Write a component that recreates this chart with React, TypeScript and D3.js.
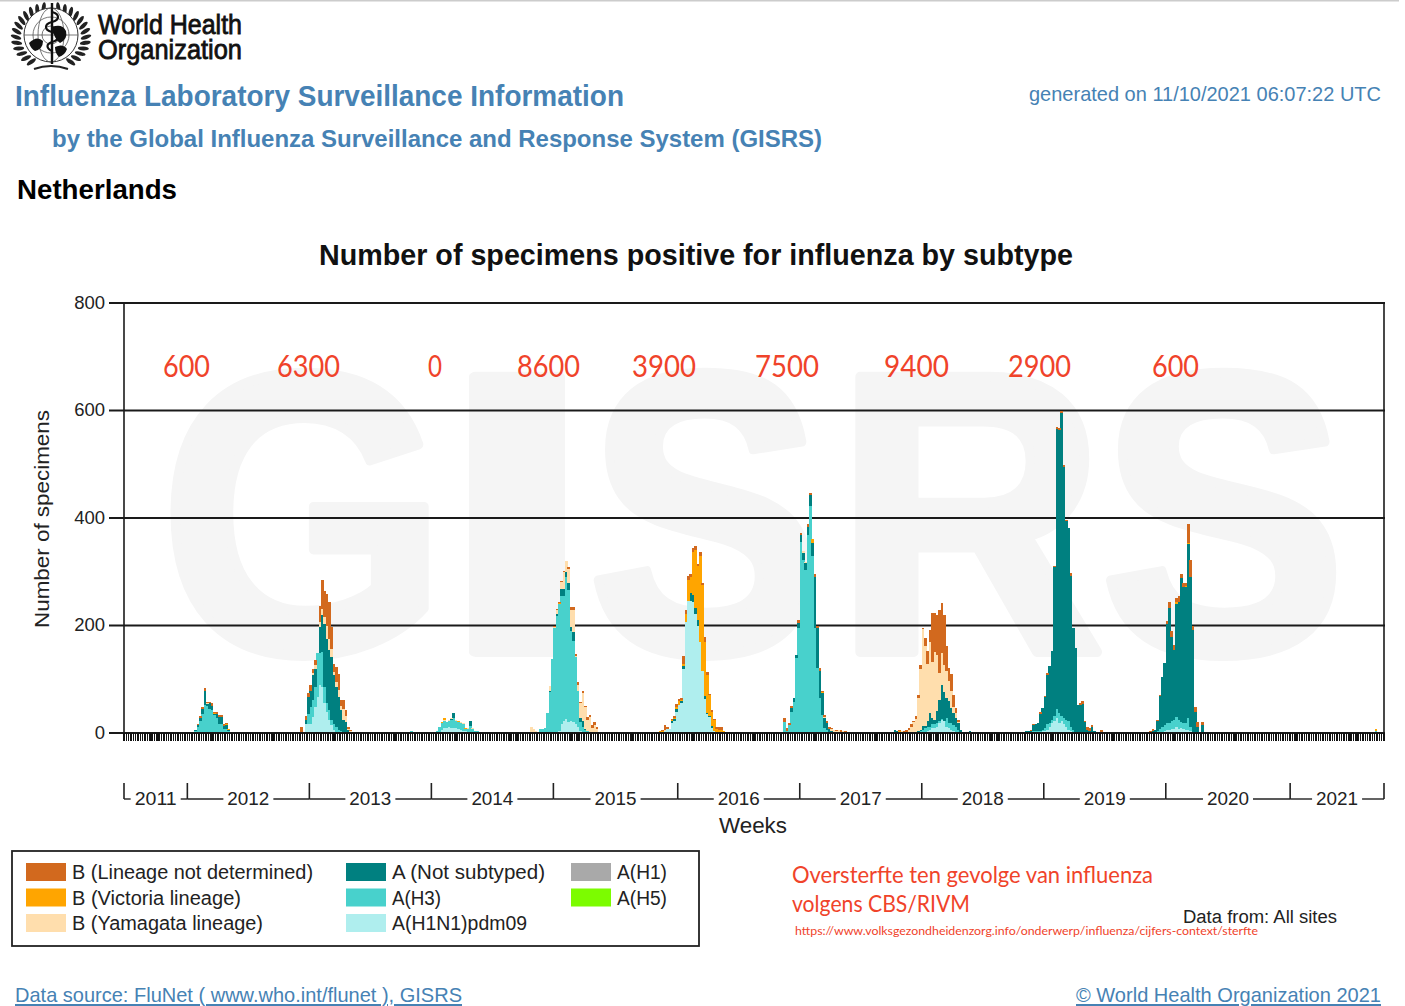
import React from "react";
import * as d3 from "d3";

const TOTAL_WEEKS = 537;
const yTicks = [0, 200, 400, 600, 800];
const years = ["2011", "2012", "2013", "2014", "2015", "2016", "2017", "2018", "2019", "2020", "2021"];
const yearBoundaries = [0, 27, 79, 131, 183, 236, 288, 340, 392, 444, 497, 537];

const seriesKeys = ["h1n1", "h3", "h1", "h5", "ans", "yam", "vic", "bnd"];
const seriesColors: Record<string, string> = {
  bnd: "#d2691e", vic: "#ffa500", yam: "#ffdead", ans: "#008080",
  h3: "#48d1cc", h1n1: "#afeeee", h1: "#a9a9a9", h5: "#7cfc00",
};
const legendCol1 = ["bnd", "vic", "yam"];
const legendCol1Labels = ["B (Lineage not determined)", "B (Victoria lineage)", "B (Yamagata lineage)"];
const legendCol2 = ["ans", "h3", "h1n1"];
const legendCol2Labels = ["A (Not subtyped)", "A(H3)", "A(H1N1)pdm09"];
const legendCol3 = ["h1", "h5"];
const legendCol3Labels = ["A(H1)", "A(H5)"];

const mortalityLabels = ["600", "6300", "0", "8600", "3900", "7500", "9400", "2900", "600"];
const mortalityLeft = [163, 277, 428, 517, 632, 755, 884, 1008, 1152];
const mortalityRight = [210, 340, 442, 580, 696, 819, 949, 1071, 1199];

const watermarkLetters = ["G", "I", "S", "R", "S"];
const watermarkLeft = [160, 438, 588, 835, 1100];
const watermarkRight = [447, 596, 822, 1105, 1346];

// Season 2011/12
const start2012 = 30;
const h3_2012 = [4, 12, 23, 36, 52, 50, 45, 42, 33, 28, 17, 17, 8, 8, 3];
const ans_2012 = [2, 3, 5, 9, 27, 4, 10, 8, 3, 8, 12, 12, 5, 6, 2];
const yam_2012 = [0, 0, 0, 0, 0, 1, 0, 1];
const vic_2012 = [0, 0, 0, 0, 0, 0, 0, 0, 1, 0, 0, 0, 0, 3, 3];
const bnd_2012 = [0, 2, 3, 3, 5, 3, 3, 4, 2, 3, 4, 4, 4, 2, 0];

// Season 2012/13
const start2013 = 75;
const h1_2013 = [0, 2, 16, 17, 17, 30, 48, 67, 89, 86, 55, 39, 24, 14, 5, 2];
const h3_2013 = [0, 0, 1, 19, 31, 31, 38, 81, 59, 65, 31, 16, 18, 10, 12, 9, 5, 4, 2, 1];
const ans_2013 = [0, 0, 8, 31, 31, 46, 34, 0, 49, 68, 117, 120, 112, 117, 90, 75, 62, 38, 22, 19, 5, 2];
const yam_2013 = [0, 0, 0, 0, 0, 5, 6, 0, 10, 12, 12, 25, 20, 15, 6, 8, 13, 8, 20, 12, 3, 1];
const bnd_2013 = [11, 0, 6, 7, 10, 8, 10, 0, 30, 54, 50, 59, 70, 41, 16, 29, 30, 11, 17, 10, 3, 2];

// Season 2013/14
const start2014 = 133;
const h1_2014 = [1, 2, 6, 9, 9, 11, 9, 10, 9, 8, 5, 4, 3, 2];
const h3_2014 = [3, 10, 12, 14, 12, 12, 15, 17, 13, 13, 13, 12, 5, 6, 13, 8, 4, 3];
const ans_2014 = [0, 0, 0, 0, 0, 0, 2, 10, 1, 0, 0, 0, 0, 0, 9];
const yam_2014 = [0, 0, 0, 2, 0, 2, 2, 0, 2, 0, 2, 3, 0, 1, 0, 1];
const vic_2014 = [0, 0, 2, 3, 0, 0, 0, 0, 0, 2, 0, 0, 1, 0, 1];

// Season 2014/15
const start2015 = 173;
const h1_2015 = [0, 0, 0, 0, 0, 0, 0, 0, 0, 0, 0, 1, 4, 17, 23, 26, 20, 23, 20, 17, 11, 4, 2, 1];
const h3_2015 = [0, 0, 0, 0, 7, 7, 10, 37, 76, 137, 196, 217, 236, 238, 232, 264, 246, 167, 152, 124, 68, 16, 10, 5, 3, 1];
const ans_2015 = [0, 0, 0, 0, 0, 0, 0, 0, 3, 0, 0, 3, 0, 13, 13, 10, 14, 7, 15, 0, 0, 8, 10, 2];
const yam_2015 = [11, 7, 4, 0, 0, 0, 0, 1, 9, 1, 2, 8, 0, 13, 32, 20, 25, 32, 41, 3, 11, 28, 53, 40, 22, 28, 10, 15, 8, 1];
const vic_2015 = [0, 0, 0, 0, 0, 0, 0, 0, 0, 0, 0, 0, 1];
const bnd_2015 = [0, 0, 0, 0, 0, 0, 0, 0, 0, 0, 2, 2, 2, 2, 2, 0, 3, 5, 6, 3, 4, 1, 4, 3, 4, 5, 4, 5, 3, 0];

// Season 2015/16
const start2016 = 228;
const h1_2016 = [0, 0, 3, 8, 7, 18, 22, 40, 52, 56, 119, 206, 246, 246, 243, 221, 200, 169, 116, 63, 35, 29, 10, 4];
const ans_2016 = [0, 0, 0, 0, 0, 4, 4, 4, 0, 4, 5, 0, 0, 14, 13, 12, 10, 0, 0, 6, 2, 2, 3];
const yam_2016 = [0, 0, 3];
const vic_2016 = [3, 4, 0, 0, 0, 2, 2, 5, 7, 2, 4, 15, 38, 30, 80, 107, 100, 160, 160, 100, 70, 40, 26, 20, 8, 6, 6, 3, 0];
const bnd_2016 = [1, 2, 8, 3, 0, 2, 4, 5, 4, 4, 15, 7, 9, 6, 9, 8, 4, 7, 4, 9, 6, 2, 3, 2, 3, 5, 5, 1, 2];

// Season 2016/17
const start2017 = 281;
const h3_2017 = [20, 4, 15, 40, 58, 140, 195, 356, 322, 304, 369, 422, 329, 195, 121, 65, 34, 9, 6, 2];
const ans_2017 = [0, 0, 0, 6, 7, 5, 10, 12, 12, 12, 14, 20, 24, 96, 75, 50, 40, 18, 12, 6, 4];
const yam_2017 = [0, 0, 0, 0, 0, 0, 0, 0, 4, 3, 0, 0, 0, 0, 0, 0, 0, 2, 1, 0, 3, 6, 3, 6, 0, 3, 0];
const vic_2017 = [0, 0, 0, 0, 0, 0, 0, 0, 0, 0, 0, 0, 8, 0, 0, 0, 3];
const bnd_2017 = [8, 5, 3, 4, 0, 1, 6, 4, 0, 0, 5, 5, 0, 5, 4, 6, 1, 5, 4, 4, 2, 0, 3, 0, 5, 0, 3];

// Season 2017/18
const start2018 = 328;
const h1_2018 = [0, 0, 0, 0, 0, 0, 0, 0, 0, 0, 0, 0, 1, 2, 3, 6, 9, 9, 12, 19, 25, 22, 12, 9, 6, 3, 1];
const h3_2018 = [1, 0, 0, 0, 0, 0, 0, 0, 0, 0, 1, 3, 5, 7, 9, 6, 7, 7, 7, 3, 1, 0, 16, 9, 12, 12, 11, 6, 2];
const ans_2018 = [4, 3, 0, 0, 0, 0, 0, 0, 0, 0, 3, 2, 7, 4, 10, 25, 12, 9, 22, 40, 64, 55, 37, 41, 29, 22, 16, 12, 4];
const yam_2018 = [0, 0, 0, 3, 0, 2, 5, 12, 20, 26, 62, 114, 180, 148, 106, 132, 105, 125, 105, 50, 58, 50, 50, 38, 32, 12, 10, 2, 0];
const vic_2018 = [0, 0, 4];
const bnd_2018 = [0, 0, 2, 0, 3, 4, 4, 4, 2, 5, 5, 8, 2, 16, 24, 23, 90, 73, 74, 117, 94, 93, 47, 24, 30, 22, 9, 5, 0];

// Season 2018/19
const start2019 = 384;
const h1_2019 = [0, 0, 0, 0, 0, 0, 2, 3, 3, 6, 12, 18, 22, 28, 19, 22, 16, 12, 6, 3];
const h3_2019 = [0, 0, 0, 3, 4, 4, 1, 3, 6, 10, 6, 7, 9, 16, 19, 9, 12, 12, 16, 9, 6, 2];
const ans_2019 = [4, 3, 3, 12, 13, 15, 33, 41, 58, 92, 106, 127, 277, 521, 525, 565, 466, 370, 359, 281, 189, 156, 53, 53, 54, 20, 5, 3, 12, 3];
const bnd_2019 = [0, 1, 3, 1, 0, 0, 4, 0, 1, 4, 0, 0, 2, 5, 4, 4, 5, 3, 0, 4, 0, 0, 0, 3, 5, 2, 6, 6, 2, 0];

// Season 2019/20
const start2020 = 436;
const h1_2020 = [0, 0, 0, 0, 0, 2, 2, 3, 6, 6, 7, 8, 12, 8, 9, 7, 6, 5, 4];
const h3_2020 = [0, 0, 0, 2, 4, 6, 10, 11, 12, 12, 15, 17, 18, 16, 12, 12, 12, 22, 8, 2];
const ans_2020 = [2, 2, 4, 4, 18, 60, 92, 116, 185, 215, 157, 130, 210, 220, 268, 252, 254, 325, 278, 190, 40, 12, 2, 15];
const vic_2020 = [0, 0, 0, 0, 0, 0, 0, 0, 0, 0, 0, 0, 3, 0, 0, 0, 2, 2];
const bnd_2020 = [0, 2, 3, 0, 3, 3, 1, 0, 5, 10, 10, 9, 8, 10, 7, 8, 5, 35, 32, 8, 8, 9, 0, 5];

// Small isolated counts outside the seasons
const strayWeeks = [14, 18, 21, 28, 29, 50, 70, 72, 122, 360, 416, 533];
const strayH3 = [0, 0, 0, 1, 2, 0, 0, 0, 3, 0, 0, 3];
const strayAns = [0, 0, 0, 0, 0, 0, 0, 0, 0, 3, 0, 0];
const strayYam = [0, 0, 2, 0, 0, 0, 1, 0, 0, 0, 2, 0];
const strayVic = [0, 0, 0, 0, 0, 0, 0, 0, 0, 0, 0, 5];
const strayBnd = [1, 1, 0, 0, 0, 1, 0, 1, 0, 0, 4, 0];

type Row = Record<string, number>;
const rows: Row[] = d3.range(TOTAL_WEEKS).map(() => ({ h1n1: 0, h3: 0, h1: 0, h5: 0, ans: 0, yam: 0, vic: 0, bnd: 0 }));
function add(key: string, start: number, vals: number[]) {
  vals.forEach((v, k) => { rows[start + k][key] += v; });
}
add("h3", start2012, h3_2012); add("ans", start2012, ans_2012); add("yam", start2012, yam_2012); add("vic", start2012, vic_2012); add("bnd", start2012, bnd_2012);
add("h1n1", start2013, h1_2013); add("h3", start2013, h3_2013); add("ans", start2013, ans_2013); add("yam", start2013, yam_2013); add("bnd", start2013, bnd_2013);
add("h1n1", start2014, h1_2014); add("h3", start2014, h3_2014); add("ans", start2014, ans_2014); add("yam", start2014, yam_2014); add("vic", start2014, vic_2014);
add("h1n1", start2015, h1_2015); add("h3", start2015, h3_2015); add("ans", start2015, ans_2015); add("yam", start2015, yam_2015); add("vic", start2015, vic_2015); add("bnd", start2015, bnd_2015);
add("h1n1", start2016, h1_2016); add("ans", start2016, ans_2016); add("yam", start2016, yam_2016); add("vic", start2016, vic_2016); add("bnd", start2016, bnd_2016);
add("h3", start2017, h3_2017); add("ans", start2017, ans_2017); add("yam", start2017, yam_2017); add("vic", start2017, vic_2017); add("bnd", start2017, bnd_2017);
add("h1n1", start2018, h1_2018); add("h3", start2018, h3_2018); add("ans", start2018, ans_2018); add("yam", start2018, yam_2018); add("vic", start2018, vic_2018); add("bnd", start2018, bnd_2018);
add("h1n1", start2019, h1_2019); add("h3", start2019, h3_2019); add("ans", start2019, ans_2019); add("bnd", start2019, bnd_2019);
add("h1n1", start2020, h1_2020); add("h3", start2020, h3_2020); add("ans", start2020, ans_2020); add("vic", start2020, vic_2020); add("bnd", start2020, bnd_2020);
strayWeeks.forEach((w, k) => {
  rows[w].h3 += strayH3[k]; rows[w].ans += strayAns[k]; rows[w].yam += strayYam[k]; rows[w].vic += strayVic[k]; rows[w].bnd += strayBnd[k];
});

const FONT = "'Liberation Sans', Arial, sans-serif";
const RED_FONT = "Lato, 'Open Sans', sans-serif";
const BLUE = "#4682b4";
const DARK = "#222";
const RED = "#f0432a";

const x = d3.scaleLinear().domain([0, TOTAL_WEEKS]).range([124, 1384]);
const y = d3.scaleLinear().domain([0, 800]).range([733, 303]);
const stacked = d3.stack<Row>().keys(seriesKeys)(rows);

function T({ l, r, b, size, weight, fill = DARK, children, underline, family = FONT }: any) {
  return (
    <text x={l} y={b} fontFamily={family} fontSize={size} fontWeight={weight} fill={fill}
      textLength={r - l} lengthAdjust="spacingAndGlyphs" textDecoration={underline ? "underline" : undefined}>
      {children}
    </text>
  );
}

function Logo() {
  const cx = 51, cy = 35;
  const leaves = d3.range(0, 13).flatMap((k) => {
    const a = (k / 13) * 145 + 12;
    return [-1, 1].map((s) => {
      const ang = (a * Math.PI) / 180;
      const lx = cx + s * 35 * Math.sin(ang);
      const ly = cy + 2 - 30 * Math.cos(ang);
      return <ellipse key={`${k}${s}`} cx={lx} cy={ly} rx={2} ry={5.5} fill="#222"
        transform={`rotate(${s * (a - 20)} ${lx} ${ly})`} />;
    });
  });
  return (
    <g>
      {leaves}
      <circle cx={cx} cy={cy} r={27} fill="#fff" stroke="#333" strokeWidth={1} />
      <circle cx={cx} cy={cy} r={18} fill="none" stroke="#555" strokeWidth={0.8} />
      <circle cx={cx} cy={cy} r={9} fill="none" stroke="#555" strokeWidth={0.8} />
      <ellipse cx={cx} cy={cy} rx={13} ry={27} fill="none" stroke="#555" strokeWidth={0.8} />
      <line x1={cx - 27} y1={cy} x2={cx + 27} y2={cy} stroke="#555" strokeWidth={0.8} />
      <path d={`M${cx + 1} ${cy - 8} q10 -4 14 4 q2 8 -6 12 q-6 -4 -8 -16z`} fill="#111" />
      <path d={`M${cx - 22} ${cy + 8} q8 -8 14 -2 q0 8 -8 10 q-4 -2 -6 -8z`} fill="#111" />
      <path d={`M${cx + 4} ${cy + 12} q8 -4 12 2 q-2 6 -8 8 q-4 -4 -4 -10z`} fill="#111" />
      <line x1={cx + 1} y1={3} x2={cx + 1} y2={64} stroke="#111" strokeWidth={2.4} />
      <path d={`M${cx + 1} 12 c8 2 8 8 0 10 c-8 2 -8 8 0 10 c8 2 8 8 0 10 c-6 2 -6 6 0 9`} fill="none" stroke="#111" strokeWidth={2.2} />
      <path d={`M${cx - 17} 69 q17 -6 34 0`} fill="none" stroke="#222" strokeWidth={2} />
    </g>
  );
}

export default function App() {
  const axisColor = "#1a1a1a";
  const legendRowY = [872, 897.5, 923];
  const legend = (keys: string[], labels: string[], swatch: number, textL: number, textR: number[]) =>
    keys.map((k, i) => (
      <g key={k}>
        <rect x={swatch} y={legendRowY[i] - 9} width={40} height={18} fill={seriesColors[k]} />
        <T l={textL} r={textR[i]} b={legendRowY[i] + 7} size={20}>{labels[i]}</T>
      </g>
    ));
  return (
    <svg width={1405} height={1006} style={{ position: "absolute", left: 0, top: 0, background: "#fff" }}>
      <rect x={0} y={0} width={1399} height={1.5} fill="#ccc" />
      <Logo />
      <g stroke="#111" strokeWidth={0.8}>
        <T l={98} r={242} b={34} size={27} fill="#111">World Health</T>
        <T l={98} r={242} b={59} size={27} fill="#111">Organization</T>
      </g>
      <T l={15} r={624} b={105.5} size={29} weight="bold" fill={BLUE}>Influenza Laboratory Surveillance Information</T>
      <T l={1029} r={1381} b={101} size={21} fill={BLUE}>generated on 11/10/2021 06:07:22 UTC</T>
      <T l={52} r={822} b={147} size={24} weight="bold" fill={BLUE}>by the Global Influenza Surveillance and Response System (GISRS)</T>
      <T l={17} r={177} b={199} size={28} weight="bold" fill="#000">Netherlands</T>

      <T l={319} r={1073} b={265} size={29} weight="bold" fill="#111">Number of specimens positive for influenza by subtype</T>

      {/* watermark */}
      {watermarkLetters.map((c, i) => (
        <text key={i} x={watermarkLeft[i]} y={652} fontFamily={FONT} fontWeight="bold" fontSize={400}
          fill="#f5f5f5" stroke="#f5f5f5" strokeWidth={10} strokeLinejoin="round"
          textLength={watermarkRight[i] - watermarkLeft[i]} lengthAdjust="spacingAndGlyphs">{c}</text>
      ))}

      {/* grid and y axis */}
      {yTicks.map((t) => (
        <g key={t}>
          <line x1={109} x2={1385} y1={y(t)} y2={y(t)} stroke={axisColor} strokeWidth={1.8} />
          <text x={105} y={y(t) + 5.5} textAnchor="end" fontFamily={FONT} fontSize={18.5} fill={DARK}>{t}</text>
        </g>
      ))}
      <line x1={x(0)} x2={x(0)} y1={y(800)} y2={y(0)} stroke={axisColor} strokeWidth={1.6} />
      <line x1={x(TOTAL_WEEKS)} x2={x(TOTAL_WEEKS)} y1={y(800)} y2={y(0)} stroke={axisColor} strokeWidth={1.6} />

      {/* stacked weekly bars */}
      <g shapeRendering="crispEdges">
        {stacked.map((s) => (
          <g key={s.key} fill={seriesColors[s.key]}>
            {s.map((d, i) => d[1] > d[0] ? (
              <rect key={i} x={x(i)} width={x(i + 1) - x(i) + 0.3} y={y(d[1])} height={y(d[0]) - y(d[1])} />
            ) : null)}
          </g>
        ))}
      </g>
      <line x1={x(0)} x2={x(TOTAL_WEEKS)} y1={y(0)} y2={y(0)} stroke={axisColor} strokeWidth={1.8} />

      {/* weekly rug */}
      <g shapeRendering="crispEdges">
        {d3.range(TOTAL_WEEKS + 1).map((w) => (
          <line key={w} x1={x(w)} x2={x(w)} y1={y(0)} y2={y(0) + 8} stroke="#111" strokeWidth={1.4} />
        ))}
      </g>

      {/* year brackets */}
      {yearBoundaries.map((w) => (
        <line key={w} x1={x(w)} x2={x(w)} y1={783} y2={799} stroke={DARK} strokeWidth={1.6} />
      ))}
      {years.map((label, i) => {
        const a = x(yearBoundaries[i]), b = x(yearBoundaries[i + 1]), c = (a + b) / 2;
        return (
          <g key={label}>
            <line x1={a} x2={c - 25} y1={799} y2={799} stroke={DARK} strokeWidth={1.4} />
            <line x1={c + 25} x2={b} y1={799} y2={799} stroke={DARK} strokeWidth={1.4} />
            <text x={c - 21} y={805} fontFamily={FONT} fontSize={19} fill={DARK}
              textLength={42} lengthAdjust="spacingAndGlyphs">{label}</text>
          </g>
        );
      })}
      <T l={719} r={787} b={833} size={22}>Weeks</T>
      <text transform="translate(49,519) rotate(-90)" textAnchor="middle" fontFamily={FONT} fontSize={20} fill={DARK}
        textLength={218} lengthAdjust="spacingAndGlyphs">Number of specimens</text>

      {/* mortality annotations */}
      {mortalityLabels.map((m, i) => (
        <T key={i} l={mortalityLeft[i]} r={mortalityRight[i]} b={376.5} size={30} fill={RED} family={RED_FONT}>{m}</T>
      ))}

      {/* legend */}
      <rect x={12} y={851} width={687} height={95} fill="#fff" stroke={DARK} strokeWidth={1.8} />
      {legend(legendCol1, legendCol1Labels, 26, 72, [313, 241, 263])}
      {legend(legendCol2, legendCol2Labels, 346, 392, [545, 441, 527])}
      {legend(legendCol3, legendCol3Labels, 571, 617, [667, 667])}

      <T l={792} r={1153} b={883} size={24} fill={RED} family={RED_FONT}>Oversterfte ten gevolge van influenza</T>
      <T l={792} r={970} b={912} size={24} fill={RED} family={RED_FONT}>volgens CBS/RIVM</T>
      <T l={795} r={1258} b={935} size={12} fill={RED} family={RED_FONT}>https://www.volksgezondheidenzorg.info/onderwerp/influenza/cijfers-context/sterfte</T>
      <T l={1183} r={1337} b={923} size={18}>Data from: All sites</T>

      <T l={15} r={462} b={1002} size={21} fill={BLUE} underline>Data source: FluNet ( www.who.int/flunet ), GISRS</T>
      <T l={1076} r={1381} b={1002} size={21} fill={BLUE} underline>© World Health Organization 2021</T>
    </svg>
  );
}
